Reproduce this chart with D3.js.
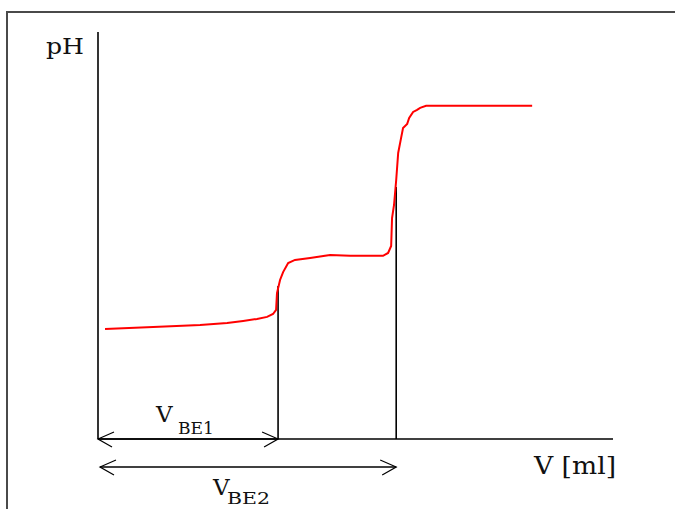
<!DOCTYPE html>
<html>
<head>
<meta charset="utf-8">
<script src="https://cdn.jsdelivr.net/npm/d3@7"></script>
<style>
  html, body { margin: 0; padding: 0; background: #fff; overflow: hidden; }
  svg { display: block; }
  text { font-family: "DejaVu Serif", "Liberation Serif", serif; fill: #111; }
</style>
</head>
<body>
<svg id="chart" width="675" height="509"></svg>
<script>
// titration curve (V in ml, pH)
const volume = [0.39, 3.06, 5.67, 7.17, 8.06, 8.83, 9.39, 9.72, 9.89, 9.94, 10.11, 10.28, 10.56, 10.94,
  11.78, 12.89, 14.0, 15.83, 16.11, 16.28, 16.33, 16.44, 16.56, 16.67, 16.83, 16.94, 17.17, 17.28,
  17.5, 17.72, 17.89, 18.22, 24.11];
const phValues = [3.78, 3.85, 3.92, 3.99, 4.06, 4.13, 4.20, 4.30, 4.44, 5.02, 5.47, 5.74, 6.05, 6.16,
  6.23, 6.33, 6.30, 6.30, 6.40, 6.64, 7.60, 8.05, 8.91, 9.84, 10.35, 10.70, 10.84, 11.04,
  11.25, 11.32, 11.39, 11.46, 11.46];

// equivalence points
const eqVolume = [10.0, 16.56];
const eqPH = [5.26, 8.67];
const eqLabels = ["BE1", "BE2"];

const svg = d3.select("#chart");

const x = d3.scaleLinear().domain([0, 28.6]).range([98, 613]);
const y = d3.scaleLinear().domain([0, 14]).range([439, 32]);

// outer frame: only top and left edges are inside the picture
svg.append("path")
  .attr("d", "M7,520 L7,12 L700,12")
  .attr("fill", "none")
  .attr("stroke", "#4a4a4a")
  .attr("stroke-width", 2);

// axes, drawn as plain lines like the original sketch
svg.append("line")
  .attr("x1", x(0)).attr("x2", x(0))
  .attr("y1", y(14)).attr("y2", y(0))
  .attr("stroke", "#000").attr("stroke-width", 1.6);
svg.append("line")
  .attr("x1", x(0)).attr("x2", x(28.6))
  .attr("y1", y(0)).attr("y2", y(0))
  .attr("stroke", "#000").attr("stroke-width", 1.6);

// vertical lines at the equivalence points
svg.selectAll("line.eq")
  .data(eqVolume)
  .join("line")
  .attr("class", "eq")
  .attr("x1", d => x(d)).attr("x2", d => x(d))
  .attr("y1", y(0)).attr("y2", (d, i) => y(eqPH[i]))
  .attr("stroke", "#000").attr("stroke-width", 1.6);

// red curve
const line = d3.line()
  .x((d, i) => x(volume[i]))
  .y(d => y(d));

svg.append("path")
  .datum(phValues)
  .attr("d", line)
  .attr("fill", "none")
  .attr("stroke", "#ff0000")
  .attr("stroke-width", 2);

// double arrows below the axis
const arrowY = [y(0), y(0) + 28];
const startX = [x(0), x(0) + 2];

function arrowHead(g, tipX, tipY, dir) {
  g.append("path")
    .attr("d", `M${tipX + dir * 16},${tipY - 7} L${tipX},${tipY} L${tipX + dir * 14},${tipY + 8}`)
    .attr("fill", "none")
    .attr("stroke", "#000")
    .attr("stroke-width", 1.2);
}

eqVolume.forEach((v, i) => {
  const g = svg.append("g");
  g.append("line")
    .attr("x1", startX[i]).attr("x2", x(v))
    .attr("y1", arrowY[i]).attr("y2", arrowY[i])
    .attr("stroke", "#000").attr("stroke-width", 1.6);
  arrowHead(g, startX[i], arrowY[i], 1);
  arrowHead(g, x(v), arrowY[i], -1);
});

// labels
svg.append("text")
  .attr("x", 46).attr("y", 54)
  .attr("font-size", 22)
  .attr("textLength", 38).attr("lengthAdjust", "spacingAndGlyphs")
  .text("pH");

svg.append("text")
  .attr("x", 534).attr("y", 474)
  .attr("font-size", 24)
  .attr("textLength", 82).attr("lengthAdjust", "spacingAndGlyphs")
  .text("V [ml]");

const labelPos = [
  { vx: 156, vy: 422, sx: 178, sy: 434, sw: 36 },
  { vx: 213, vy: 495, sx: 227, sy: 504, sw: 43 }
];

labelPos.forEach((p, i) => {
  svg.append("text")
    .attr("x", p.vx).attr("y", p.vy)
    .attr("font-size", 23)
    .text("V");
  svg.append("text")
    .attr("x", p.sx).attr("y", p.sy)
    .attr("font-size", 16)
    .attr("textLength", p.sw).attr("lengthAdjust", "spacingAndGlyphs")
    .text(eqLabels[i]);
});
</script>
</body>
</html>
